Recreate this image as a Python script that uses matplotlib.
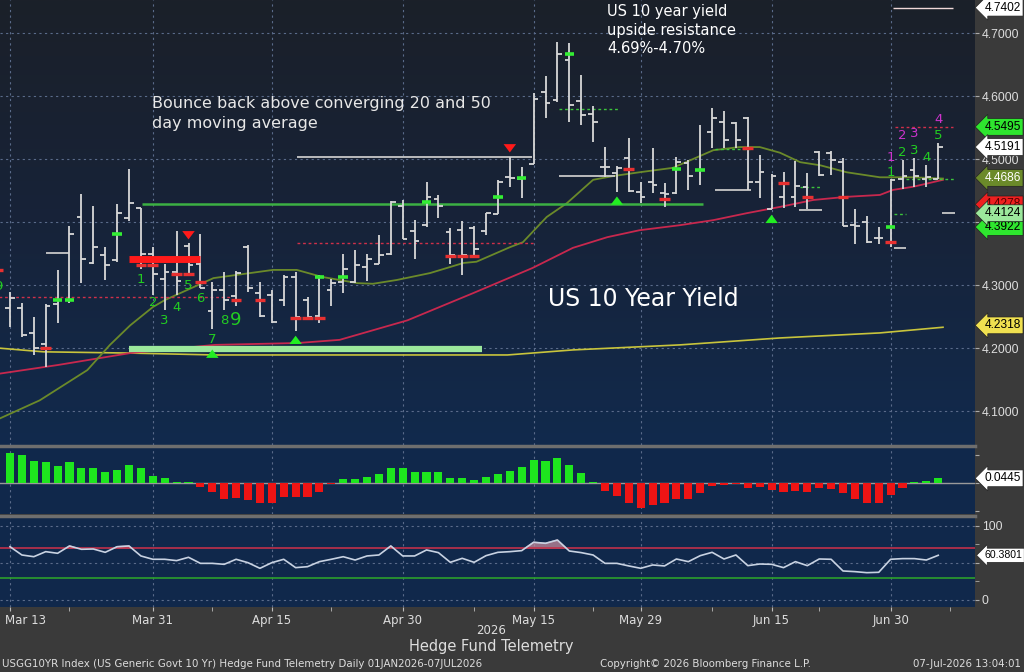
import matplotlib
matplotlib.use("Agg")
import matplotlib.pyplot as plt
import matplotlib.transforms as mtransforms
from matplotlib.colors import LinearSegmentedColormap
from matplotlib.lines import Line2D
import numpy as np
import pandas as pd

# ---- data -------------------------------------------------------------
holidays = ["2026-04-03", "2026-05-25", "2026-06-19"]
dates = [d for d in pd.bdate_range("2026-03-13", "2026-07-06")
         if d.strftime("%Y-%m-%d") not in holidays]

opens = [4.264, 4.263, 4.224, 4.206, 4.270, 4.277, 4.408, 4.335, 4.348, 4.340,
         4.406, 4.423, 4.349, 4.310, 4.321, 4.362, 4.333, 4.259, 4.292, 4.283,
         4.360, 4.287, 4.284, 4.276, 4.313, 4.277, 4.251, 4.292, 4.305, 4.305,
         4.329, 4.334, 4.349, 4.426, 4.385, 4.395, 4.436, 4.384, 4.387, 4.390,
         4.386, 4.413, 4.472, 4.469, 4.492, 4.607, 4.593, 4.657, 4.592, 4.571,
         4.488, 4.478, 4.501, 4.447, 4.464, 4.446, 4.446, 4.494, 4.483, 4.543,
         4.559, 4.557, 4.565, 4.464, 4.420, 4.440, 4.439, 4.456, 4.511, 4.509,
         4.496, 4.395, 4.400, 4.374, 4.369, 4.468, 4.483, 4.469, 4.469]
highs = [4.289, 4.272, 4.250, 4.270, 4.324, 4.393, 4.444, 4.425, 4.360, 4.429,
         4.484, 4.423, 4.360, 4.333, 4.386, 4.366, 4.381, 4.305, 4.321, 4.322,
         4.364, 4.305, 4.292, 4.316, 4.321, 4.281, 4.316, 4.309, 4.350, 4.356,
         4.349, 4.379, 4.433, 4.435, 4.404, 4.464, 4.443, 4.390, 4.402, 4.393,
         4.415, 4.467, 4.504, 4.488, 4.604, 4.632, 4.686, 4.684, 4.633, 4.584,
         4.519, 4.489, 4.534, 4.464, 4.517, 4.462, 4.503, 4.498, 4.554, 4.581,
         4.577, 4.559, 4.567, 4.506, 4.476, 4.480, 4.497, 4.478, 4.512, 4.512,
         4.501, 4.420, 4.410, 4.392, 4.468, 4.498, 4.501, 4.490, 4.525]
lows = [4.234, 4.218, 4.189, 4.170, 4.239, 4.271, 4.303, 4.334, 4.308, 4.337,
        4.402, 4.325, 4.284, 4.260, 4.284, 4.316, 4.295, 4.231, 4.261, 4.266,
        4.289, 4.249, 4.240, 4.266, 4.227, 4.247, 4.239, 4.266, 4.288, 4.303,
        4.307, 4.334, 4.348, 4.373, 4.342, 4.392, 4.406, 4.333, 4.316, 4.345,
        4.379, 4.413, 4.456, 4.438, 4.492, 4.565, 4.591, 4.559, 4.554, 4.527,
        4.472, 4.448, 4.448, 4.430, 4.446, 4.424, 4.444, 4.451, 4.459, 4.517,
        4.517, 4.517, 4.451, 4.438, 4.420, 4.422, 4.424, 4.420, 4.473, 4.475,
        4.393, 4.365, 4.367, 4.365, 4.361, 4.452, 4.456, 4.456, 4.468]
closes = [4.279, 4.220, 4.200, 4.267, 4.277, 4.381, 4.342, 4.361, 4.332, 4.414,
          4.430, 4.350, 4.317, 4.320, 4.307, 4.332, 4.296, 4.292, 4.276, 4.319,
          4.295, 4.251, 4.242, 4.312, 4.250, 4.250, 4.313, 4.303, 4.326, 4.332,
          4.341, 4.348, 4.432, 4.373, 4.370, 4.440, 4.426, 4.348, 4.348, 4.357,
          4.415, 4.464, 4.470, 4.470, 4.595, 4.589, 4.667, 4.586, 4.570, 4.559,
          4.488, 4.485, 4.449, 4.439, 4.459, 4.444, 4.496, 4.473, 4.483, 4.565,
          4.530, 4.530, 4.464, 4.480, 4.473, 4.461, 4.457, 4.439, 4.475, 4.498,
          4.394, 4.394, 4.369, 4.374, 4.467, 4.473, 4.473, 4.471, 4.5191]

# moving averages at sample bars
ma20_idx = [-1, 2.5, 6.5, 8.4, 10.1, 12, 13, 17.1, 22.1, 24.1, 26.2, 29.2, 30.5, 32.5,
            35.3, 38.1, 39.2, 42, 43.1, 45.1, 46.8, 49, 50.7, 52.9, 55.7, 59.1, 61.3,
            63, 64.7, 66.4, 68.1, 70.3, 73.1, 75.9, 78.4]
ma20 = [4.087, 4.117, 4.165, 4.205, 4.236, 4.265, 4.276, 4.311, 4.324, 4.324, 4.313,
        4.303, 4.302, 4.308, 4.319, 4.335, 4.337, 4.360, 4.368, 4.408, 4.430, 4.467,
        4.473, 4.479, 4.486, 4.514, 4.519, 4.519, 4.510, 4.495, 4.490, 4.479, 4.471,
        4.471, 4.469]
ma50_idx = [-1, 4, 10.1, 17.2, 24.2, 27.7, 33.4, 38.9, 43.9, 47.3, 50.2, 52.9, 56.3,
            59.1, 61.9, 64.7, 67.5, 70.3, 73.1, 74.2, 75.9, 78.4]
ma50 = [4.159, 4.173, 4.192, 4.205, 4.208, 4.213, 4.244, 4.287, 4.327, 4.359, 4.376,
        4.387, 4.395, 4.403, 4.414, 4.424, 4.435, 4.440, 4.443, 4.451, 4.456, 4.467]
ma200_idx = [-1, 2.8, 10.1, 17.2, 27.3, 41.8, 47.3, 56.3, 64.7, 73.1, 78.4]
ma200 = [4.200, 4.194, 4.192, 4.189, 4.189, 4.189, 4.197, 4.205, 4.216, 4.224, 4.233]

macd = [0.270, 0.249, 0.195, 0.186, 0.150, 0.186, 0.135, 0.135, 0.099, 0.120,
        0.159, 0.135, 0.066, 0.051, 0.009, 0.009, -0.030, -0.075, -0.144, -0.135,
        -0.150, -0.174, -0.171, -0.120, -0.126, -0.120, -0.075, -0.009, 0.039, 0.039,
        0.060, 0.081, 0.135, 0.135, 0.099, 0.099, 0.099, 0.051, 0.051, 0.030,
        0.060, 0.081, 0.111, 0.144, 0.210, 0.201, 0.225, 0.159, 0.090, 0.009,
        -0.066, -0.111, -0.174, -0.219, -0.189, -0.174, -0.141, -0.141, -0.090, -0.021,
        -0.015, -0.003, -0.045, -0.030, -0.060, -0.081, -0.066, -0.075, -0.039, -0.051,
        -0.090, -0.141, -0.174, -0.171, -0.105, -0.039, 0.015, 0.024, 0.0445]
rsi = [72.0, 60.8, 58.5, 65.3, 63.1, 73.0, 68.5, 68.9, 64.4, 72.0,
       73.0, 59.5, 55.0, 55.0, 53.2, 57.7, 49.5, 49.5, 48.2, 55.0,
       50.4, 42.8, 50.4, 55.0, 43.7, 45.0, 51.8, 55.0, 58.5, 54.0,
       59.5, 60.8, 73.0, 59.5, 59.5, 67.6, 64.0, 50.9, 56.3, 50.9,
       59.9, 64.4, 65.3, 66.7, 78.0, 76.6, 81.0, 66.2, 64.0, 60.8,
       49.5, 49.5, 46.0, 42.8, 47.3, 46.0, 55.4, 51.8, 59.9, 64.4,
       55.4, 60.8, 46.4, 48.6, 48.2, 43.7, 51.8, 46.4, 55.4, 55.0,
       39.2, 38.3, 36.9, 37.4, 55.0, 55.9, 55.9, 54.0, 60.38]

tick_dates = ["2026-03-13", "2026-03-31", "2026-04-15", "2026-04-30",
              "2026-05-15", "2026-05-29", "2026-06-15", "2026-06-30"]
tick_labels = ["Mar 13", "Mar 31", "Apr 15", "Apr 30", "May 15", "May 29", "Jun 15", "Jun 30"]
minor_ticks = [5, 17, 27, 39, 49, 59, 68, 79]

# drawn levels (value, from bar, to bar)
gray_lvl = [4.503, 4.351, 4.473, 4.451, 4.419, 4.358, 4.414, 4.740]
gray_from = [24.1, 3, 46.1, 59.2, 66.3, 74.3, 78.3, 74.2]
gray_to = [43.9, 5, 50.8, 62.3, 68.2, 75.3, 79.4, 79.2]
gdot_lvl = [4.579, 4.516, 4.456, 4.412, 4.468]
gdot_from = [46.1, 59.2, 66.4, 74.3, 75.3]
gdot_to = [51.1, 62.2, 68.2, 75.3, 79.4]
rdot_lvl = [4.281, 4.367, 4.551]
rdot_from = [-1, 24.1, 74.4]
rdot_to = [18.5, 44.1, 79.2]

green_dash_idx = [4, 5, 9, 26, 28, 35, 41, 43, 47, 56, 58, 74]
green_dash_val = [4.277, 4.277, 4.381, 4.312, 4.313, 4.432, 4.440, 4.470, 4.667, 4.484, 4.483, 4.392]
red_dash_idx = [-1, 3, 11, 12, 14, 15, 16, 19, 21, 24, 25, 26, 37, 38, 39, 52, 55, 62, 65, 67, 70, 74]
red_dash_val = [4.324, 4.200, 4.332, 4.332, 4.317, 4.317, 4.305, 4.276, 4.276, 4.248, 4.248,
                4.248, 4.346, 4.346, 4.346, 4.484, 4.436, 4.517, 4.462, 4.440, 4.440, 4.368]
down_idx = [15, 42]
down_val = [4.376, 4.514]
up_idx = [17, 24, 51, 64]
up_val = [4.194, 4.216, 4.437, 4.408]

count_idx = [-1, 11, 12, 13, 14, 15, 16, 17, 18, 19, 74, 75, 76, 77, 78]
count_val = [4.297, 4.308, 4.273, 4.244, 4.265, 4.300, 4.279, 4.214, 4.244, 4.244,
             4.479, 4.511, 4.514, 4.502, 4.538]
count_txt = ["9", "1", "2", "3", "4", "5", "6", "7", "8", "9", "1", "2", "3", "4", "5"]
setup_idx = [74, 75, 76, 78]
setup_val = [4.503, 4.538, 4.541, 4.562]
setup_txt = ["1", "2", "3", "4"]

x = np.arange(len(dates))
date_pos = {d.strftime("%Y-%m-%d"): i for i, d in enumerate(dates)}
major_ticks = [date_pos[d] for d in tick_dates]

# ---- figure ---------------------------------------------------------------
W, H = 1024, 672
fig = plt.figure(figsize=(W / 100, H / 100), dpi=100, facecolor="#3a3a3a")
right = 975 / W
ax = fig.add_axes([0, 1 - 445 / H, right, 445 / H])
axm = fig.add_axes([0, 1 - 514 / H, right, 66 / H])
axr = fig.add_axes([0, 1 - 607 / H, right, 89 / H])

xlim = (-0.84, 81.09)
grid_col = "#5a6b8a"
txt_col = "#dddddd"
num_font = "Liberation Sans"

# background gradient
ylim = (4.0461, 4.7524)
cmap = LinearSegmentedColormap.from_list("bg", ["#1b2029", "#172339", "#112a4d"])
ax.imshow(np.linspace(0, 1, 256).reshape(-1, 1), cmap=cmap, aspect="auto",
          extent=[xlim[0], xlim[1], ylim[0], ylim[1]], origin="upper", zorder=0)
for a in (axm, axr):
    a.set_facecolor("#10284b")

for a in (ax, axm, axr):
    a.set_xlim(*xlim)
    for s in a.spines.values():
        s.set_visible(False)
    a.set_xticks(major_ticks)
    a.set_xticks(minor_ticks, minor=True)
    a.grid(True, axis="x", which="major", color=grid_col, ls=(0, (2, 3)), lw=0.8)
    a.yaxis.tick_right()
    a.tick_params(axis="y", colors="#aaaaaa", labelcolor=txt_col, labelsize=8.8,
                  length=3, direction="out", pad=2)
    a.tick_params(axis="x", which="both", length=0, labelbottom=False)

ax.set_ylim(*ylim)
ax.set_yticks([4.1, 4.2, 4.3, 4.4, 4.5, 4.6, 4.7])
ax.set_yticklabels([f"{v:.4f}" for v in [4.1, 4.2, 4.3, 4.4, 4.5, 4.6, 4.7]])
ax.grid(True, axis="y", color=grid_col, ls=(0, (2, 3)), lw=0.8)

# moving averages
ax.plot(ma200_idx, ma200, color="#c8c43c", lw=1.2, zorder=3)
ax.plot(ma50_idx, ma50, color="#c8284e", lw=1.3, zorder=3)
ax.plot(ma20_idx, ma20, color="#6b8a2a", lw=1.3, zorder=3)

# level lines
ax.hlines(gray_lvl[:-1], gray_from[:-1], gray_to[:-1], color="#c8c8c8", lw=1.3, zorder=4)
ax.hlines(gray_lvl[-1], gray_from[-1], gray_to[-1], color="#f0d8d8", lw=1.0, zorder=4)
ax.hlines(gdot_lvl, gdot_from, gdot_to, color="#3cc43c", lw=1.0, ls=(0, (2, 2)), zorder=4)
ax.hlines(rdot_lvl, rdot_from, rdot_to, color="#d0304a", lw=1.0, ls=(0, (2, 2)), zorder=4)
ax.hlines(4.429, 11.1, 58.2, color="#3cb043", lw=1.8, zorder=4)
ax.hlines(4.341, 10, 16, color="#ff1a1a", lw=5, zorder=6)
ax.hlines(4.198, 10, 39.7, color="#9ce89c", lw=4.5, zorder=4)

# OHLC bars
bar_col = "#d8d8d8"
ax.vlines(x, lows, highs, color=bar_col, lw=1.3, zorder=5)
ax.hlines(opens, x - 0.4, x, color=bar_col, lw=1.3, zorder=5)
ax.hlines(closes, x, x + 0.4, color=bar_col, lw=1.3, zorder=5)

# signal marks
gi = np.array(green_dash_idx)
ax.hlines(green_dash_val, gi - 0.4, gi + 0.4, color="#33ee33", lw=2.6, zorder=6)
ri = np.array(red_dash_idx)
ax.hlines(red_dash_val, ri - 0.45, ri + 0.45, color="#e83030", lw=2.4, zorder=6)
arrow_style = "simple,head_width=0.9,head_length=0.6,tail_width=0.45"
for i, v in zip(down_idx, down_val):
    ax.annotate("", xy=(i, v - 0.008), xytext=(i, v + 0.008),
                arrowprops=dict(arrowstyle=arrow_style, color="#ff1a1a", lw=0), zorder=7)
for i, v in zip(up_idx, up_val):
    ax.annotate("", xy=(i, v + 0.008), xytext=(i, v - 0.008),
                arrowprops=dict(arrowstyle=arrow_style, color="#22ee22", lw=0), zorder=7)
for i, v, t in zip(count_idx, count_val, count_txt):
    big = (i == 19)
    ax.text(i, v, t, color="#22cc22", fontsize=13 if big else 9.5, ha="center",
            va="center", zorder=7)
for i, v, t in zip(setup_idx, setup_val, setup_txt):
    ax.text(i, v, t, color="#cc33cc", fontsize=9.5, ha="center", va="center", zorder=7)

# annotations
ax.text(50.2, 4.746, "US 10 year yield\nupside resistance\n4.69%-4.70%", color="white",
        fontsize=10.5, va="top", ha="left", linespacing=1.3, zorder=8)
ax.text(11.93, 4.600, "Bounce back above converging 20 and 50\nday moving average",
        color="#e8e8e8", fontsize=11.5, va="top", ha="left", linespacing=1.4, zorder=8)
ax.text(45.2, 4.278, "US 10 Year Yield", color="white", fontsize=17, va="center",
        ha="left", zorder=8)

# right-side value tags
def tag(a, v, s, fc, tc="black", size=8.6):
    tr = mtransforms.blended_transform_factory(a.transAxes, a.transData)
    a.text(1.0095, v, s, transform=tr, ha="left", va="center", fontsize=size, color=tc,
           family=num_font, clip_on=False, zorder=10,
           bbox=dict(boxstyle="larrow,pad=0.2", fc=fc, ec="#222222", lw=0.5))

tag(ax, 4.7402, "4.7402", "white")
tag(ax, 4.551, "4.5495", "#2ee62e")
tag(ax, 4.519, "4.5191", "white")
tag(ax, 4.470, "4.4686", "#6b8a2a", "white")
tag(ax, 4.428, "4.4278", "#ee2020", "#550000")
tag(ax, 4.392, "4.3922", "#2ee62e")
tag(ax, 4.414, "4.4124", "#9ce89c")
tag(ax, 4.236, "4.2318", "#f0e050")

# MACD histogram
axm.set_ylim(-0.273, 0.314)
mv = np.array(macd)
axm.bar(x, mv, width=0.68, color=np.where(mv >= 0, "#1ee61e", "#ee1414"), zorder=3)
axm.axhline(0, color="#9a9a9a", lw=1.0, zorder=2)
axm.set_yticks([-0.25, 0, 0.25])
axm.set_yticklabels(["", "", ""])
tag(axm, 0.0445, "0.0445", "white")

# RSI
axr.set_ylim(-9.5, 110.8)
axr.set_yticks([0, 50, 100])
axr.set_yticklabels(["0", "", "100"])
axr.set_yticks([25, 75], minor=True)
axr.tick_params(axis="y", which="minor", colors="#aaaaaa", length=3)
axr.grid(True, axis="y", which="major", color=grid_col, ls=(0, (2, 3)), lw=0.8)
rv = np.array(rsi)
axr.fill_between(x, 70, rv, where=rv > 70, interpolate=True, color="#c48a9c", alpha=0.75, zorder=2)
axr.axhline(70, color="#c0304a", lw=1.2, zorder=3)
axr.axhline(30, color="#2ca02c", lw=1.2, zorder=3)
axr.plot(x, rv, color="#c8d2e2", lw=1.2, zorder=4)
tag(axr, 60.38, "60.3801", "white", size=7.6)
axr.set_xticklabels(tick_labels)
axr.tick_params(axis="x", which="both", length=3, color="#bbbbbb", labelbottom=True,
                labelcolor=txt_col, labelsize=8.5, direction="out", pad=2)
first = axr.get_xticklabels()[0]
first.set_ha("left")
first.set_transform(first.get_transform() + mtransforms.ScaledTranslation(-5 / 100, 0, fig.dpi_scale_trans))

for a in (ax, axm, axr):
    for lbl in a.get_yticklabels():
        lbl.set_family(num_font)

# panel separators
for yp in (446, 516):
    fig.add_artist(Line2D([0, right], [1 - yp / H, 1 - yp / H], color="#6e6e6e", lw=2.5))

# footer
fig.text(491 / W, 1 - 631 / H, "2026", color=txt_col, fontsize=8.5, ha="center", va="center")
fig.text(491 / W, 1 - 647 / H, "Hedge Fund Telemetry", color=txt_col, fontsize=10.5,
         ha="center", va="center")
fig.text(2 / W, 1 - 664 / H,
         "USGG10YR Index (US Generic Govt 10 Yr) Hedge Fund Telemetry Daily 01JAN2026-07JUL2026",
         color=txt_col, fontsize=7.4, ha="left", va="center")
fig.text(600 / W, 1 - 664 / H, "Copyright\u00a9 2026 Bloomberg Finance L.P.", color=txt_col,
         fontsize=7.4, ha="left", va="center")
fig.text(1021 / W, 1 - 664 / H, "07-Jul-2026 13:04:01", color=txt_col, fontsize=7.4,
         ha="right", va="center")

fig.savefig("out.png", dpi=100, facecolor=fig.get_facecolor())
